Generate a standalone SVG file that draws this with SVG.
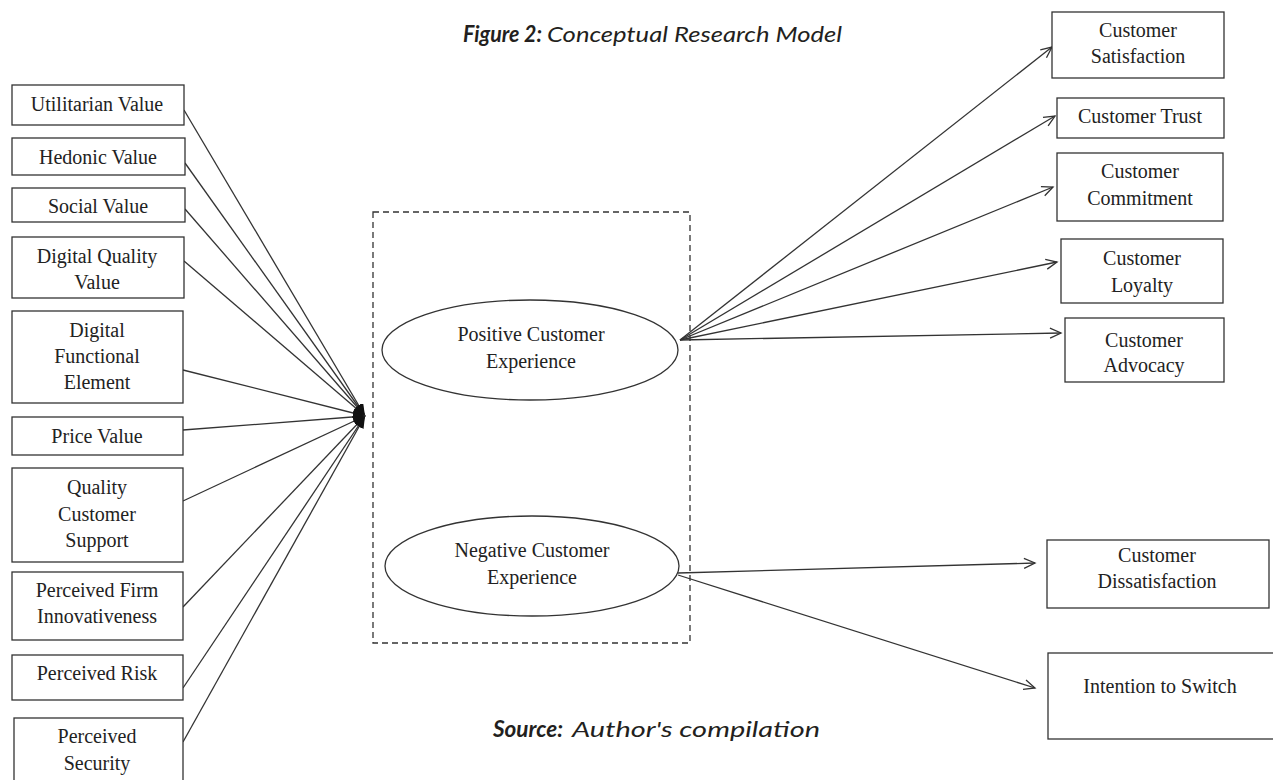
<svg xmlns="http://www.w3.org/2000/svg" width="1273" height="780" viewBox="0 0 1273 780">
<style>
.box{fill:#fff;stroke:#333;stroke-width:1.3}
.ell{fill:#fff;stroke:#333;stroke-width:1.3}
.t{font-family:"Liberation Serif","Times New Roman",serif;font-size:20px;fill:#222;text-anchor:middle}
.ln{stroke:#333;stroke-width:1.3;fill:none}
.in{marker-end:url(#fill)}
.out{marker-end:url(#open)}
.cap{font-family:Lato,"Open Sans",sans-serif;font-size:22px;font-style:italic;fill:#231f20}
.b{font-weight:bold}
</style>
<defs>
<marker id="open" markerWidth="14" markerHeight="14" refX="12" refY="6" orient="auto" markerUnits="userSpaceOnUse">
<path d="M1,1 L12,6 L1,11" fill="none" stroke="#333" stroke-width="1.3"/>
</marker>
<marker id="fill" markerWidth="14" markerHeight="14" refX="12" refY="5" orient="auto" markerUnits="userSpaceOnUse">
<path d="M0,0 L12,5 L0,10 Z" fill="#111"/>
</marker>
</defs>
<rect width="1273" height="780" fill="#fff"/>

<g id="title">
<text class="cap b" x="463" y="42" textLength="79" lengthAdjust="spacingAndGlyphs">Figure 2:</text>
<text class="cap" x="547" y="42" textLength="295" lengthAdjust="spacingAndGlyphs">Conceptual Research Model</text>
</g>
<g id="source">
<text class="cap b" x="493" y="737" textLength="70" lengthAdjust="spacingAndGlyphs">Source:</text>
<text class="cap" x="572" y="737" textLength="248" lengthAdjust="spacingAndGlyphs">Author's compilation</text>
</g>

<g id="experience-frame">
<rect x="373" y="212" width="317" height="431" fill="none" stroke="#333" stroke-width="1.3" stroke-dasharray="6,4"/>
</g>

<g id="connectors">
<line class="ln in" x1="184" y1="110" x2="365" y2="416"/>
<line class="ln in" x1="185" y1="163" x2="365" y2="416"/>
<line class="ln in" x1="185" y1="209" x2="365" y2="416"/>
<line class="ln in" x1="184" y1="261" x2="365" y2="416"/>
<line class="ln in" x1="183" y1="370" x2="365" y2="416"/>
<line class="ln in" x1="183" y1="430" x2="365" y2="416"/>
<line class="ln in" x1="183" y1="501" x2="365" y2="416"/>
<line class="ln in" x1="183" y1="607" x2="365" y2="416"/>
<line class="ln in" x1="183" y1="688" x2="365" y2="416"/>
<line class="ln in" x1="183" y1="742" x2="365" y2="416"/>
<line class="ln out" x1="680" y1="340" x2="1052" y2="47"/>
<line class="ln out" x1="680" y1="340" x2="1055" y2="116"/>
<line class="ln out" x1="680" y1="340" x2="1053" y2="187"/>
<line class="ln out" x1="680" y1="340" x2="1057" y2="262"/>
<line class="ln out" x1="680" y1="340" x2="1061" y2="333"/>
<line class="ln out" x1="678" y1="573" x2="1035" y2="563"/>
<line class="ln out" x1="678" y1="575" x2="1035" y2="688"/>
</g>

<g id="utilitarian-value"><rect class="box" x="12" y="85" width="172" height="40"/><text class="t" x="97" y="111">Utilitarian Value</text></g>
<g id="hedonic-value"><rect class="box" x="12" y="138" width="173" height="37"/><text class="t" x="98" y="164">Hedonic Value</text></g>
<g id="social-value"><rect class="box" x="12" y="188" width="173" height="34"/><text class="t" x="98" y="213">Social Value</text></g>
<g id="digital-quality-value"><rect class="box" x="12" y="237" width="172" height="61"/><text class="t" x="97" y="263">Digital Quality</text><text class="t" x="97" y="289">Value</text></g>
<g id="digital-functional-element"><rect class="box" x="12" y="311" width="171" height="92"/><text class="t" x="97" y="337">Digital</text><text class="t" x="97" y="363">Functional</text><text class="t" x="97" y="389">Element</text></g>
<g id="price-value"><rect class="box" x="12" y="417" width="171" height="38"/><text class="t" x="97" y="443">Price Value</text></g>
<g id="quality-customer-support"><rect class="box" x="12" y="468" width="171" height="94"/><text class="t" x="97" y="494">Quality</text><text class="t" x="97" y="521">Customer</text><text class="t" x="97" y="547">Support</text></g>
<g id="perceived-firm-innovativeness"><rect class="box" x="12" y="572" width="171" height="68"/><text class="t" x="97" y="597">Perceived Firm</text><text class="t" x="97" y="623">Innovativeness</text></g>
<g id="perceived-risk"><rect class="box" x="12" y="655" width="171" height="45"/><text class="t" x="97" y="680">Perceived Risk</text></g>
<g id="perceived-security"><rect class="box" x="14" y="718" width="169" height="80"/><text class="t" x="97" y="743">Perceived</text><text class="t" x="97" y="770">Security</text></g>

<g id="positive-customer-experience"><ellipse class="ell" cx="530" cy="350" rx="148" ry="50"/><text class="t" x="531" y="341">Positive Customer</text><text class="t" x="531" y="368">Experience</text></g>
<g id="negative-customer-experience"><ellipse class="ell" cx="532" cy="566" rx="147" ry="50"/><text class="t" x="532" y="557">Negative Customer</text><text class="t" x="532" y="584">Experience</text></g>

<g id="customer-satisfaction"><rect class="box" x="1052" y="12" width="172" height="66"/><text class="t" x="1138" y="37">Customer</text><text class="t" x="1138" y="63">Satisfaction</text></g>
<g id="customer-trust"><rect class="box" x="1057" y="98" width="167" height="40"/><text class="t" x="1140" y="123">Customer Trust</text></g>
<g id="customer-commitment"><rect class="box" x="1057" y="153" width="166" height="68"/><text class="t" x="1140" y="178">Customer</text><text class="t" x="1140" y="205">Commitment</text></g>
<g id="customer-loyalty"><rect class="box" x="1061" y="239" width="162" height="64"/><text class="t" x="1142" y="265">Customer</text><text class="t" x="1142" y="292">Loyalty</text></g>
<g id="customer-advocacy"><rect class="box" x="1065" y="318" width="159" height="64"/><text class="t" x="1144" y="347">Customer</text><text class="t" x="1144" y="372">Advocacy</text></g>
<g id="customer-dissatisfaction"><rect class="box" x="1047" y="540" width="222" height="68"/><text class="t" x="1157" y="562">Customer</text><text class="t" x="1157" y="588">Dissatisfaction</text></g>
<g id="intention-to-switch"><rect class="box" x="1048" y="653" width="230" height="86"/><text class="t" x="1160" y="693">Intention to Switch</text></g>
</svg>
